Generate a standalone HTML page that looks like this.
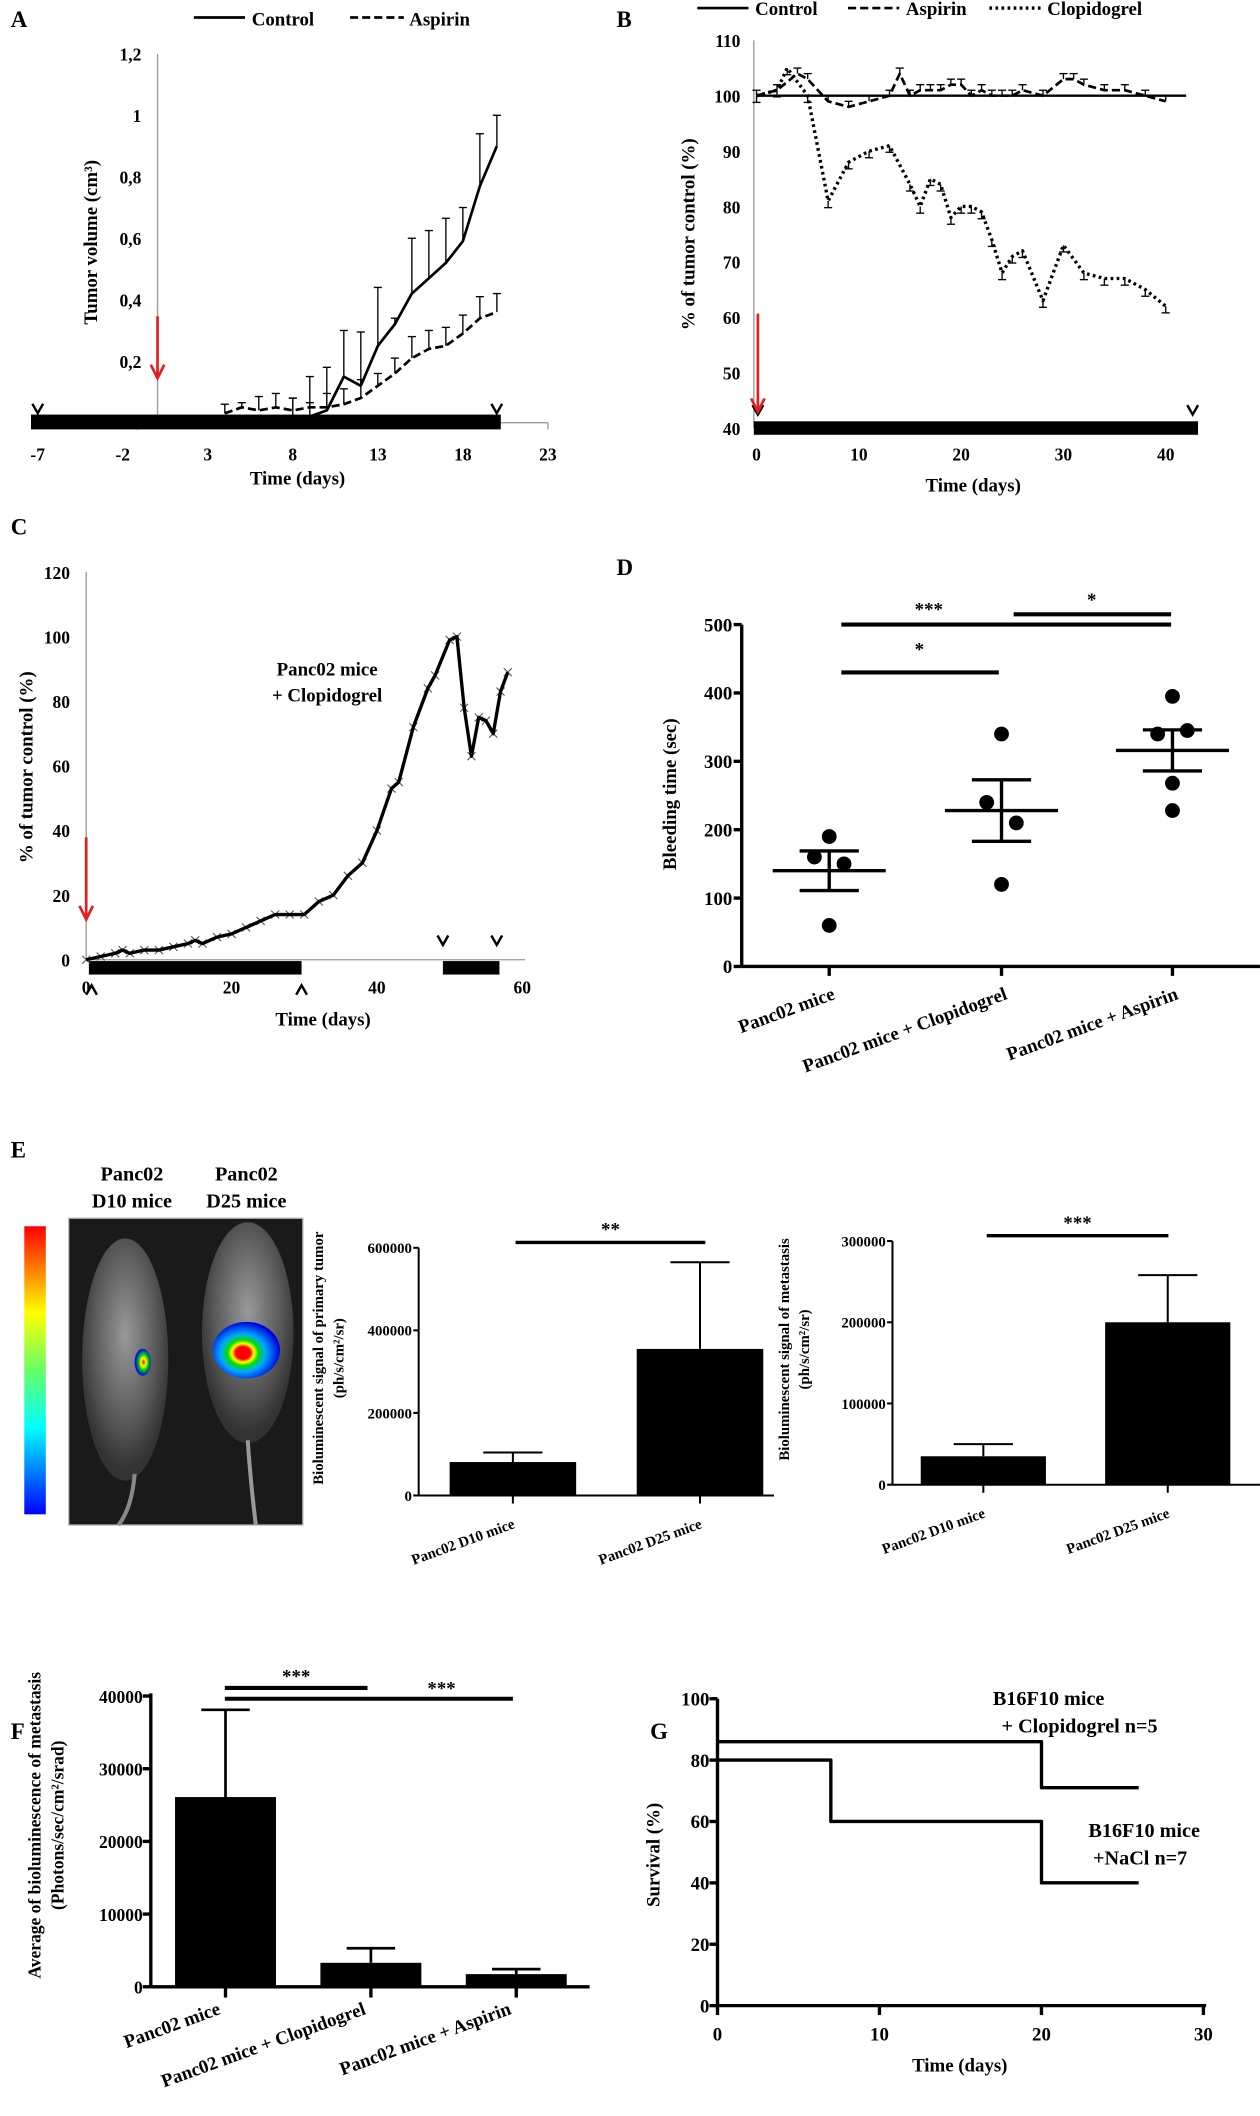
<!DOCTYPE html>
<html><head><meta charset="utf-8">
<style>
html,body{margin:0;padding:0;background:#fff;}
svg{display:block;font-family:"Liberation Serif",serif;font-weight:bold;}
</style></head>
<body>
<svg id="fig" width="1260" height="2116" viewBox="0 0 936 1572" xmlns="http://www.w3.org/2000/svg">
<defs>
<radialGradient id="lum1" cx="55%" cy="50%" r="50%"><stop offset="0" stop-color="#f00"/><stop offset="0.3" stop-color="#ff0"/><stop offset="0.6" stop-color="#0c0"/><stop offset="1" stop-color="#00f"/></radialGradient>
<radialGradient id="lum2" cx="45%" cy="55%" r="55%"><stop offset="0" stop-color="#f00"/><stop offset="0.2" stop-color="#f00"/><stop offset="0.3" stop-color="#ff0"/><stop offset="0.42" stop-color="#0d0"/><stop offset="0.6" stop-color="#0af"/><stop offset="1" stop-color="#00d"/></radialGradient>
<linearGradient id="cbar" x1="0" y1="0" x2="0" y2="1"><stop offset="0" stop-color="#f00"/><stop offset="0.3" stop-color="#ff0"/><stop offset="0.5" stop-color="#6f6"/><stop offset="0.7" stop-color="#0ff"/><stop offset="1" stop-color="#00f"/></linearGradient>
<radialGradient id="mouse" cx="50%" cy="40%" r="55%"><stop offset="0" stop-color="#999"/><stop offset="0.7" stop-color="#555"/><stop offset="1" stop-color="#333"/></radialGradient>
</defs>
</svg>
<script>
// ---------- DATA ----------
const aDays=[4,5,6,7,8,9,10,11,12,13,14,15,16,17,18,19,20];
const aCtrl=[0,0,0.005,0.005,0.02,0.02,0.04,0.15,0.12,0.25,0.32,0.42,0.47,0.52,0.59,0.77,0.9];
const aCtrlTop=[0.01,0.01,0.01,0.01,0.08,0.15,0.18,0.3,0.295,0.44,0.34,0.6,0.625,0.665,0.7,0.94,1.0];
const aAsp=[0.03,0.05,0.04,0.05,0.04,0.05,0.05,0.06,0.08,0.12,0.16,0.21,0.24,0.25,0.29,0.34,0.36];
const aAspTop=[0.06,0.065,0.085,0.095,0.08,0.065,0.095,0.11,0.14,0.16,0.21,0.28,0.3,0.31,0.35,0.41,0.42];
const aXTicks=[-7,-2,3,8,13,18,23];
const aYTicks=[0,0.2,0.4,0.6,0.8,1,1.2];

const bDays=[0,2,4,5,7,9,11,13,14,15,16,17,18,19,20,21,22,23,24,25,26,28,30,31,32,34,36,38,40];
const bAsp=[100,101,104,103,99,98,99,100,104,100,101,101,101,102,102,100,101,100,100,100,101,100,103,103,102,101,101,100,99];
const bAspErr=[1,1,1,1,1,1,1,1,1,1,1,1,1,1,1,1,1,1,1,1,1,1,1,1,1,1,1,1,1];
const bClDays=[0,2,3,5,7,9,11,13,15,16,17,18,19,20,21,22,23,24,25,26,28,30,32,34,36,38,40];
const bClop=[100,101,105,100,81,88,90,91,84,80,85,84,78,80,80,79,74,68,71,72,63,73,68,67,67,65,62];
const bXTicks=[0,10,20,30,40];
const bYTicks=[40,50,60,70,80,90,100,110];

const cDays=[0,2,4,5,6,8,10,12,14,15,16,18,20,22,24,26,28,30,32,34,36,38,40,42,43,45,47,48,50,51,52,53,54,55,56,57,58];
const cVals=[0,1,2,3,2,3,3,4,5,6,5,7,8,10,12,14,14,14,18,20,26,30,40,53,55,72,84,88,99,100,78,63,75,74,70,83,89];
const cXTicks=[0,20,40,60];
const cYTicks=[0,20,40,60,80,100,120];

const dGroups=["Panc02 mice","Panc02 mice + Clopidogrel","Panc02 mice + Aspirin"];
const dPoints=[[190,160,150,60],[340,240,210,120],[395,340,345,268,228]];
const dJitter=[[0,-11,11,0],[0,-11,11,0],[0,-11,11,0,0]];
const dMeans=[140,228,316];
const dSem=[29,45,30];
const dYTicks=[0,100,200,300,400,500];

const eCats=["Panc02 D10 mice","Panc02 D25 mice"];
const e1Vals=[81000,355000];
const e1Err=[104000,565000];
const e1Ticks=[0,200000,400000,600000];
const e2Vals=[35000,200000];
const e2Err=[50000,258000];
const e2Ticks=[0,100000,200000,300000];

const fCats=["Panc02 mice","Panc02 mice + Clopidogrel","Panc02 mice + Aspirin"];
const fVals=[26100,3300,1740];
const fErr=[38100,5300,2430];
const fTicks=[0,10000,20000,30000,40000];

const gClopDays=[0,20,20,26];
const gClopVals=[86,86,71,71];
const gNaclDays=[0,7,7,20,20,26];
const gNaclVals=[80,80,60,60,40,40];
const gXTicks=[0,10,20,30];
const gYTicks=[0,20,40,60,80,100];

// ---------- HELPERS ----------
const NS="http://www.w3.org/2000/svg";
const S=document.getElementById('fig');
function mk(tag,a,name,p){
  const el=document.createElementNS(NS,tag);
  for(const k in a) el.setAttribute(k,a[k]);
  
  
  (p||S).appendChild(el);return el;
}
function txt(x,y,s,name,o){
  o=o||{};
  const t=mk('text',{x:x,y:y,'font-size':o.fs||13,'text-anchor':o.anchor||'middle',fill:o.fill||'#000'},name);
  if(o.rot!==undefined) t.setAttribute('transform','rotate('+o.rot+' '+x+' '+y+')');
  t.textContent=s;return t;
}
function line(x1,y1,x2,y2,name,w,extra){
  const a={x1:x1,y1:y1,x2:x2,y2:y2,stroke:(extra&&extra.stroke)||'#000','stroke-width':w||1};
  if(extra&&extra.dash) a['stroke-dasharray']=extra.dash;
  return mk('line',a,name);
}
function path(xs,ys,sx,sy,name,w,dash){
  let d='';for(let i=0;i<xs.length;i++) d+=(i?'L':'M')+sx(xs[i]).toFixed(1)+' '+sy(ys[i]).toFixed(1);
  const a={d:d,fill:'none',stroke:'#000','stroke-width':w||2,'stroke-linejoin':'round'};
  if(dash) a['stroke-dasharray']=dash;
  return mk('path',a,name);
}
function errUp(x,y1,y2,name,cw,w){cw=cw||3;line(x,y1,x,y2,name,w||1);line(x-cw,y2,x+cw,y2,name+'-cap',w||1);}
function lin(d0,d1,r0,r1){return v=>r0+(v-d0)*(r1-r0)/(d1-d0);}
function arrowHead(x,y,name,up){
  const d=up?`M${x-4} ${y+7} L${x} ${y} L${x+4} ${y+7}`:`M${x-4} ${y-7} L${x} ${y} L${x+4} ${y-7}`;
  mk('path',{d:d,fill:'none',stroke:'#000','stroke-width':1.8},name);
}
function redArrow(x,y1,y2,name){
  line(x,y1,x,y2,name,2,{stroke:'#e02020'});
  mk('path',{d:`M${x-5} ${y2-10} L${x} ${y2} L${x+5} ${y2-10}`,fill:'none',stroke:'#e02020','stroke-width':2},name+'-head');
}
function fmt(v){return String(v).replace('.',',');}

// ---------- PANEL LABELS ----------
[['A',8,20],['B',458,20],['C',8,397],['D',458,427],['E',8,860],['F',8,1292],['G',483,1292]].forEach(p=>txt(p[1],p[2],p[0],'panel-label-'+p[0].toLowerCase(),{fs:17,anchor:'start'}));

// ---------- PANEL A ----------
(function(){
  const sx=lin(-7,23,28,407), sy=lin(0,1.2,314,40);
  line(117,40,117,314,'a-y-axis',1,{stroke:'#999'});
  line(117,314,407,314,'a-x-axis',1,{stroke:'#999'});
  line(407,314,407,319,'a-x-tick',1,{stroke:'#999'});
  aYTicks.forEach(v=>txt(105,sy(v)+5,fmt(v),'a-y-tick-label',{fs:13,anchor:'end'}));
  aXTicks.forEach(v=>txt(sx(v),342,String(v),'a-x-tick-label',{fs:13}));
  mk('rect',{x:23,y:308,width:349,height:11,fill:'#000'},'a-treatment-bar');
  txt(221,360,'Time (days)','a-x-axis-title',{fs:14});
  txt(72,180,'Tumor volume (cm³)','a-y-axis-title',{fs:14,rot:-90});
  aDays.forEach((d,i)=>errUp(sx(d),sy(aCtrl[i]),sy(aCtrlTop[i]),'a-control-error'));
  aDays.forEach((d,i)=>errUp(sx(d),sy(aAsp[i]),sy(aAspTop[i]),'a-aspirin-error'));
  path(aDays,aCtrl,sx,sy,'a-control-line',2);
  path(aDays,aAsp,sx,sy,'a-aspirin-line',2,'6 3');
  arrowHead(28,307,'a-start-arrow');arrowHead(369,307,'a-end-arrow');
  redArrow(117,235,281,'a-red-arrow');
  line(144,13,182,13,'a-legend-control-line',2);txt(187,19,'Control','a-legend-control',{anchor:'start',fs:14});
  line(260,13,300,13,'a-legend-aspirin-line',2,{dash:'6 3'});txt(304,19,'Aspirin','a-legend-aspirin',{anchor:'start',fs:14});
})();

// ---------- PANEL B ----------
(function(){
  const sx=lin(0,40,562,866), sy=lin(40,110,318,30);
  line(560,30,560,318,'b-y-axis',1,{stroke:'#999'});
  bYTicks.forEach(v=>txt(550,sy(v)+5,String(v),'b-y-tick-label',{fs:13,anchor:'end'}));
  bXTicks.forEach(v=>txt(sx(v),342,String(v),'b-x-tick-label',{fs:13}));
  mk('rect',{x:560,y:313,width:330,height:10,fill:'#000'},'b-treatment-bar');
  txt(723,365,'Time (days)','b-x-axis-title',{fs:14});
  txt(516,174,'% of tumor control (%)','b-y-axis-title',{fs:14,rot:-90});
  path([0,42],[100,100],sx,sy,'b-control-line',1.8);
  bDays.forEach((d,i)=>errUp(sx(d),sy(bAsp[i]),sy(bAsp[i]+bAspErr[i]),'b-aspirin-error'));
  path(bDays,bAsp,sx,sy,'b-aspirin-line',2,'6 3');
  bClDays.forEach((d,i)=>errUp(sx(d),sy(bClop[i]),sy(bClop[i]-1.2),'b-clopidogrel-error'));
  path(bClDays,bClop,sx,sy,'b-clopidogrel-line',2.5,'2 2.5');
  arrowHead(563,308,'b-start-arrow');arrowHead(886,308,'b-end-arrow');
  redArrow(563,233,306,'b-red-arrow');
  line(518,6,556,6,'b-legend-control-line',2);txt(561,11,'Control','b-legend-control',{anchor:'start',fs:14});
  line(630,6,668,6,'b-legend-aspirin-line',2,{dash:'6 3'});txt(673,11,'Aspirin','b-legend-aspirin',{anchor:'start',fs:14});
  line(735,6,773,6,'b-legend-clopidogrel-line',2.5,{dash:'2 2.5'});txt(778,11,'Clopidogrel','b-legend-clopidogrel',{anchor:'start',fs:14});
})();

// ---------- PANEL C ----------
(function(){
  const sx=lin(0,60,64,388), sy=lin(0,120,713,425);
  line(64,425,64,713,'c-y-axis',1,{stroke:'#999'});
  cYTicks.forEach(v=>txt(52,sy(v)+5,String(v),'c-y-tick-label',{fs:13,anchor:'end'}));
  line(64,713,390,713,'c-x-axis',1,{stroke:'#999'});
  cXTicks.forEach(v=>txt(sx(v),738,String(v),'c-x-tick-label',{fs:13}));
  mk('rect',{x:66,y:714,width:158,height:10,fill:'#000'},'c-treatment-bar-1');
  mk('rect',{x:329,y:714,width:42,height:10,fill:'#000'},'c-treatment-bar-2');
  txt(240,762,'Time (days)','c-x-axis-title',{fs:14});
  txt(24,570,'% of tumor control (%)','c-y-axis-title',{fs:14,rot:-90});
  cDays.forEach((d,i)=>{const x=sx(d),y=sy(cVals[i]);
    line(x-3,y-3,x+3,y+3,'c-marker',0.8,{stroke:'#555'});line(x-3,y+3,x+3,y-3,'c-marker',0.8,{stroke:'#555'});});
  path(cDays,cVals,sx,sy,'c-clopidogrel-line',2.5);
  txt(243,502,'Panc02 mice','c-annotation-1',{fs:14});
  txt(243,521,'+ Clopidogrel','c-annotation-2',{fs:14});
  arrowHead(68,732,'c-start-arrow',true);arrowHead(224,732,'c-stop-arrow',true);
  arrowHead(329,702,'c-restart-arrow');arrowHead(369,702,'c-end-arrow');
  redArrow(64,622,683,'c-red-arrow');
})();

// ---------- PANEL D ----------
(function(){
  const cx=[616,744,871], sy=lin(0,500,718,464);
  line(551,464,551,718,'d-y-axis',2.5);line(551,718,936,718,'d-x-axis',2.5);
  dYTicks.forEach(v=>{line(545,sy(v),551,sy(v),'d-y-tick',2.5);txt(544,sy(v)+5,String(v),'d-y-tick-label',{fs:14,anchor:'end'});});
  cx.forEach(x=>line(x,718,x,725,'d-x-tick',2.5));
  txt(502,590,'Bleeding time (sec)','d-y-axis-title',{fs:14,rot:-90});
  dGroups.forEach((g,i)=>txt(cx[i]+5,742,g,'d-x-tick-label',{fs:14,anchor:'end',rot:-20}));
  dPoints.forEach((pts,i)=>{
    pts.forEach((v,j)=>mk('circle',{cx:cx[i]+dJitter[i][j],cy:sy(v),r:5.5,fill:'#000'},'d-dot-'+(i+1)));
    line(cx[i]-42,sy(dMeans[i]),cx[i]+42,sy(dMeans[i]),'d-mean-'+(i+1),2.5);
    line(cx[i],sy(dMeans[i]-dSem[i]),cx[i],sy(dMeans[i]+dSem[i]),'d-sem-'+(i+1),2.5);
    line(cx[i]-22,sy(dMeans[i]+dSem[i]),cx[i]+22,sy(dMeans[i]+dSem[i]),'d-sem-cap',2.5);
    line(cx[i]-22,sy(dMeans[i]-dSem[i]),cx[i]+22,sy(dMeans[i]-dSem[i]),'d-sem-cap',2.5);
  });
  line(625,sy(500),870,sy(500),'d-sig-line-1-3',3);txt(690,sy(513),'***','d-sig-label-1-3',{fs:14});
  line(753,sy(515),870,sy(515),'d-sig-line-2-3',3);txt(811,sy(527),'*','d-sig-label-2-3',{fs:14});
  line(625,sy(430),742,sy(430),'d-sig-line-1-2',3);txt(683,sy(455),'*','d-sig-label-1-2',{fs:14});
})();

// ---------- PANEL E ----------
(function(){
  mk('rect',{x:51,y:905,width:174,height:228,fill:'#1a1a1a',stroke:'#bbb','stroke-width':1},'e-bioluminescence-image');
  mk('rect',{x:18,y:911,width:16,height:214,fill:'url(#cbar)'},'e-color-scale');
  mk('ellipse',{cx:93,cy:1010,rx:32,ry:90,fill:'url(#mouse)'},'e-mouse-d10');
  mk('ellipse',{cx:184,cy:990,rx:34,ry:82,fill:'url(#mouse)'},'e-mouse-d25');
  mk('path',{d:'M100 1095 Q98 1120 88 1133',stroke:'#888','stroke-width':3,fill:'none'},'e-mouse-d10-tail');
  mk('path',{d:'M184 1070 Q186 1100 190 1133',stroke:'#999','stroke-width':3,fill:'none'},'e-mouse-d25-tail');
  mk('ellipse',{cx:106,cy:1012,rx:6,ry:10,fill:'url(#lum1)'},'e-signal-d10');
  mk('ellipse',{cx:183,cy:1003,rx:25,ry:21,fill:'url(#lum2)'},'e-signal-d25');
  txt(98,877,'Panc02','e-label-d10-1',{fs:15});txt(98,897,'D10 mice','e-label-d10-2',{fs:15});
  txt(183,877,'Panc02','e-label-d25-1',{fs:15});txt(183,897,'D25 mice','e-label-d25-2',{fs:15});
  function bars(ax,axEnd,y0,ytop,tmax,ticks,vals,errs,xs,w,pre,sigY,sigL,sigR,sig,title1,title2,tx){
    const sy=lin(0,tmax,y0,ytop);
    line(ax,ytop,ax,y0,pre+'-y-axis',1.5);line(ax,y0,axEnd,y0,pre+'-x-axis',1.5);
    ticks.forEach(v=>{line(ax-4,sy(v),ax,sy(v),pre+'-y-tick',1.5);txt(ax-5,sy(v)+4,String(v),pre+'-y-tick-label',{fs:11,anchor:'end'});});
    vals.forEach((v,i)=>{mk('rect',{x:xs[i],y:sy(v),width:w,height:y0-sy(v),fill:'#000'},pre+'-bar-'+(i+1));
      line(xs[i]+w/2,y0,xs[i]+w/2,y0+6,pre+'-x-tick',1.5);
      errUp(xs[i]+w/2,sy(v),sy(errs[i]),pre+'-error-'+(i+1),22,1.5);
      txt(xs[i]+w/2+2,y0+24,eCats[i],pre+'-x-tick-label',{fs:11,anchor:'end',rot:-20});});
    line(sigL,sigY,sigR,sigY,pre+'-sig-line',2.5);txt((sigL+sigR)/2,sigY-5,sig,pre+'-sig-label',{fs:14});
    txt(tx,(ytop+y0)/2-10,title1,pre+'-y-axis-title-1',{fs:11,rot:-90});
    txt(tx+15,(ytop+y0)/2-10,title2,pre+'-y-axis-title-2',{fs:11,rot:-90});
  }
  bars(311,575,1111,927,600000,e1Ticks,e1Vals,e1Err,[334,473],94,'e1',923,383,524,'**','Bioluminescent signal of primary tumor','(ph/s/cm²/sr)',240);
  bars(663,936,1103,922,300000,e2Ticks,e2Vals,e2Err,[684,821],93,'e2',918,733,868,'***','Bioluminescent signal of metastasis','(ph/s/cm²/sr)',586);
})();

// ---------- PANEL F ----------
(function(){
  const sy=lin(0,40000,1476,1260), xs=[130,238,346], w=75;
  line(112,1258,112,1476,'f-y-axis',2.5);line(112,1476,438,1476,'f-x-axis',2.5);
  fTicks.forEach(v=>{line(106,sy(v),112,sy(v),'f-y-tick',2.5);txt(106,sy(v)+5,String(v),'f-y-tick-label',{fs:13,anchor:'end'});});
  fVals.forEach((v,i)=>{mk('rect',{x:xs[i],y:sy(v),width:w,height:1476-sy(v),fill:'#000'},'f-bar-'+(i+1));
    line(xs[i]+w/2,1476,xs[i]+w/2,1484,'f-x-tick',2.5);
    errUp(xs[i]+w/2,sy(v),sy(fErr[i]),'f-error-'+(i+1),18,2);
    txt(xs[i]+w/2-3,1496,fCats[i],'f-x-tick-label',{fs:14,anchor:'end',rot:-20});});
  line(167,1254,273,1254,'f-sig-line-1',3);txt(220,1250,'***','f-sig-label-1',{fs:14});
  line(167,1262,381,1262,'f-sig-line-2',3);txt(328,1259,'***','f-sig-label-2',{fs:14});
  txt(30,1356,'Average of bioluminescence of metastasis','f-y-axis-title-1',{fs:13,rot:-90});
  txt(47,1356,'(Photons/sec/cm²/srad)','f-y-axis-title-2',{fs:13,rot:-90});
})();

// ---------- PANEL G ----------
(function(){
  const sx=lin(0,30,533,894), sy=lin(0,100,1490,1262);
  line(533,1262,533,1490,'g-y-axis',2.5);line(533,1490,896,1490,'g-x-axis',2.5);
  gYTicks.forEach(v=>{line(527,sy(v),533,sy(v),'g-y-tick',2.5);txt(527,sy(v)+5,String(v),'g-y-tick-label',{fs:14,anchor:'end'});});
  gXTicks.forEach(v=>{line(sx(v),1490,sx(v),1497,'g-x-tick',2.5);txt(sx(v),1516,String(v),'g-x-tick-label',{fs:14});});
  txt(713,1539,'Time (days)','g-x-axis-title',{fs:14});
  txt(490,1378,'Survival (%)','g-y-axis-title',{fs:14,rot:-90});
  path(gClopDays,gClopVals,sx,sy,'g-clopidogrel-line',2.5);
  path(gNaclDays,gNaclVals,sx,sy,'g-nacl-line',2.5);
  txt(779,sy(98),'B16F10 mice','g-label-clop-1',{fs:15});txt(802,sy(89),'+ Clopidogrel n=5','g-label-clop-2',{fs:15});
  txt(850,sy(55),'B16F10 mice','g-label-nacl-1',{fs:15});txt(847,sy(46),'+NaCl n=7','g-label-nacl-2',{fs:15});
})();
</script>
</body></html>
